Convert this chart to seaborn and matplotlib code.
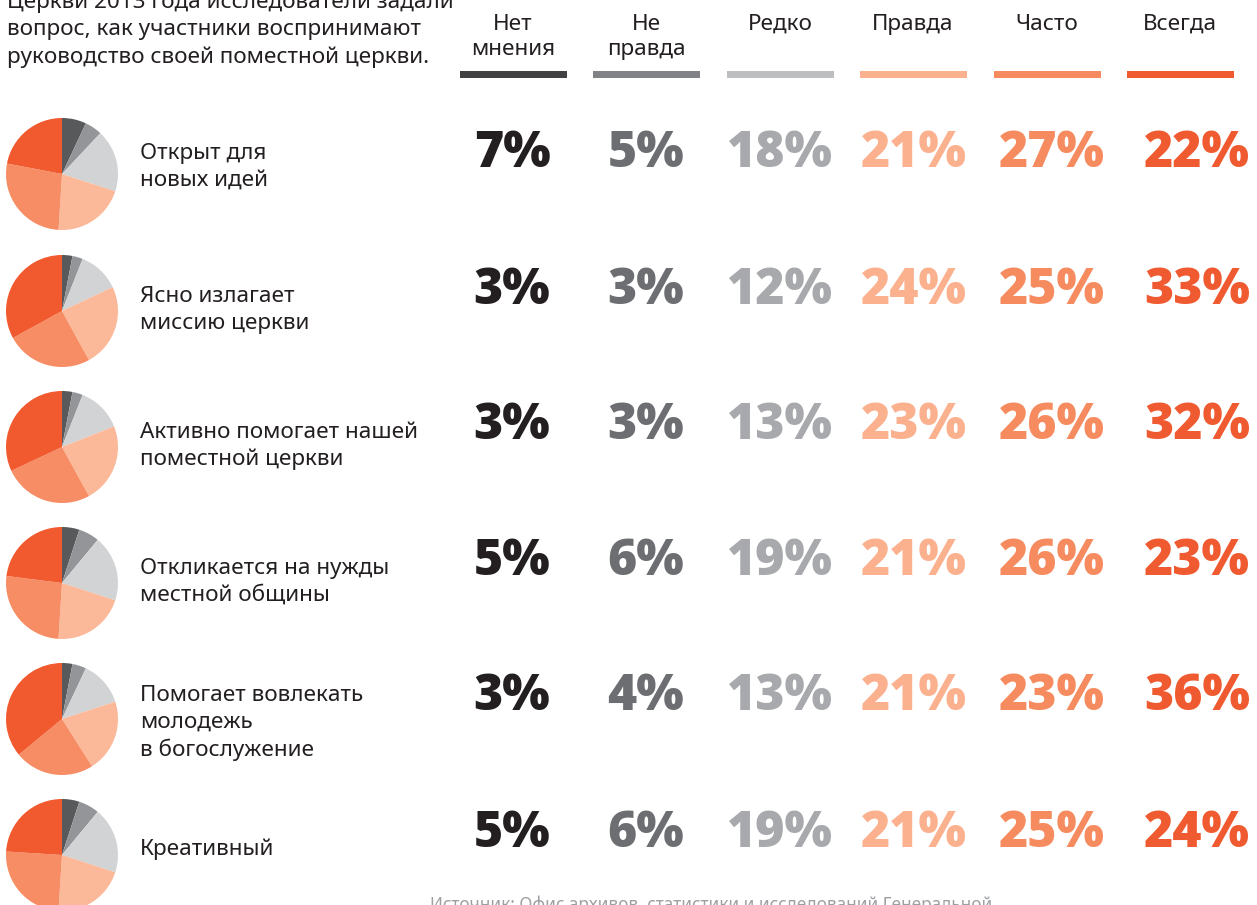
import matplotlib
matplotlib.use("Agg")
import matplotlib.pyplot as plt
from matplotlib.patches import Rectangle
import seaborn as sns

sns.set_theme(style="white")
plt.rcParams['font.family'] = ['Noto Sans', 'DejaVu Sans']

W, H = 1257, 905

categories = ["Нет\nмнения", "Не\nправда", "Редко", "Правда", "Часто", "Всегда"]
items = [
    "Открыт для\nновых идей",
    "Ясно излагает\nмиссию церкви",
    "Активно помогает нашей\nпоместной церкви",
    "Откликается на нужды\nместной общины",
    "Помогает вовлекать\nмолодежь\nв богослужение",
    "Креативный",
]
row1 = [7, 5, 18, 21, 27, 22]
row2 = [3, 3, 12, 24, 25, 33]
row3 = [3, 3, 13, 23, 26, 32]
row4 = [5, 6, 19, 21, 26, 23]
row5 = [3, 4, 13, 21, 23, 36]
row6 = [5, 6, 19, 21, 25, 24]
rows = [row1, row2, row3, row4, row5, row6]

intro = "Церкви 2013 года исследователи задали\nвопрос, как участники воспринимают\nруководство своей поместной церкви."
source = "Источник: Офис архивов, статистики и исследований Генеральной"

pie_colors = sns.color_palette(["#58595b", "#939598", "#d1d3d4", "#fbb999", "#f68d65", "#f15a2f"])
bar_colors = ["#414042", "#808285", "#bcbec0", "#fbb08e", "#f68b5f", "#f05a30"]
pct_colors = ["#231f20", "#6d6e71", "#a7a9ac", "#fbb08e", "#f68b5f", "#f05a30"]
text_color = "#231f20"

head_x = [513, 646, 780, 913, 1047, 1180]
pct_x = [512, 646, 780, 914, 1052, 1197]
row_y = [150, 287, 422, 558, 693, 830]
pie_y = [174, 311, 447, 583, 719, 855]
label_y = [167, 310, 446, 582, 723, 849]
pie_cx, pie_r = 62, 56

fig = plt.figure(figsize=(W / 100, H / 100), dpi=100)


def fx(x):
    return x / W


def fy(y):
    return 1 - y / H


# intro text, top line partly cut off like the source
fig.text(fx(7), fy(30), intro, ha='left', va='center', fontsize=16.2,
         color=text_color, linespacing=1.4)

# column headers with colored bars
for x, cat, c in zip(head_x, categories, bar_colors):
    fig.text(fx(x), fy(14), cat, ha='center', va='top', fontsize=16.2,
             color=text_color, linespacing=1.22)
    fig.add_artist(Rectangle((fx(x - 53), fy(78)), 107 / W, 7 / H,
                             transform=fig.transFigure, color=c, lw=0))

# pies, labels and percentages
for i, (label, vals) in enumerate(zip(items, rows)):
    ax = fig.add_axes([fx(pie_cx - pie_r), fy(pie_y[i] + pie_r), 2 * pie_r / W, 2 * pie_r / H])
    ax.pie(vals, colors=pie_colors, startangle=90, counterclock=False,
           wedgeprops=dict(linewidth=0))
    ax.set_xlim(-1, 1)
    ax.set_ylim(-1, 1)
    ax.set_aspect('equal')
    ax.axis('off')
    fig.text(fx(140), fy(label_y[i]), label, ha='left', va='center',
             fontsize=16.2, color=text_color, linespacing=1.37)
    for x, v, c in zip(pct_x, vals, pct_colors):
        fig.text(fx(x), fy(row_y[i] + 17), f"{v}%", ha='center', va='baseline',
                 fontsize=36, fontweight=800, color=c, family='Open Sans')

fig.text(fx(430), fy(905), source, ha='left', va='center', fontsize=12.4, color="#9d9fa2")

fig.savefig("out.png", dpi=100, facecolor='white')
